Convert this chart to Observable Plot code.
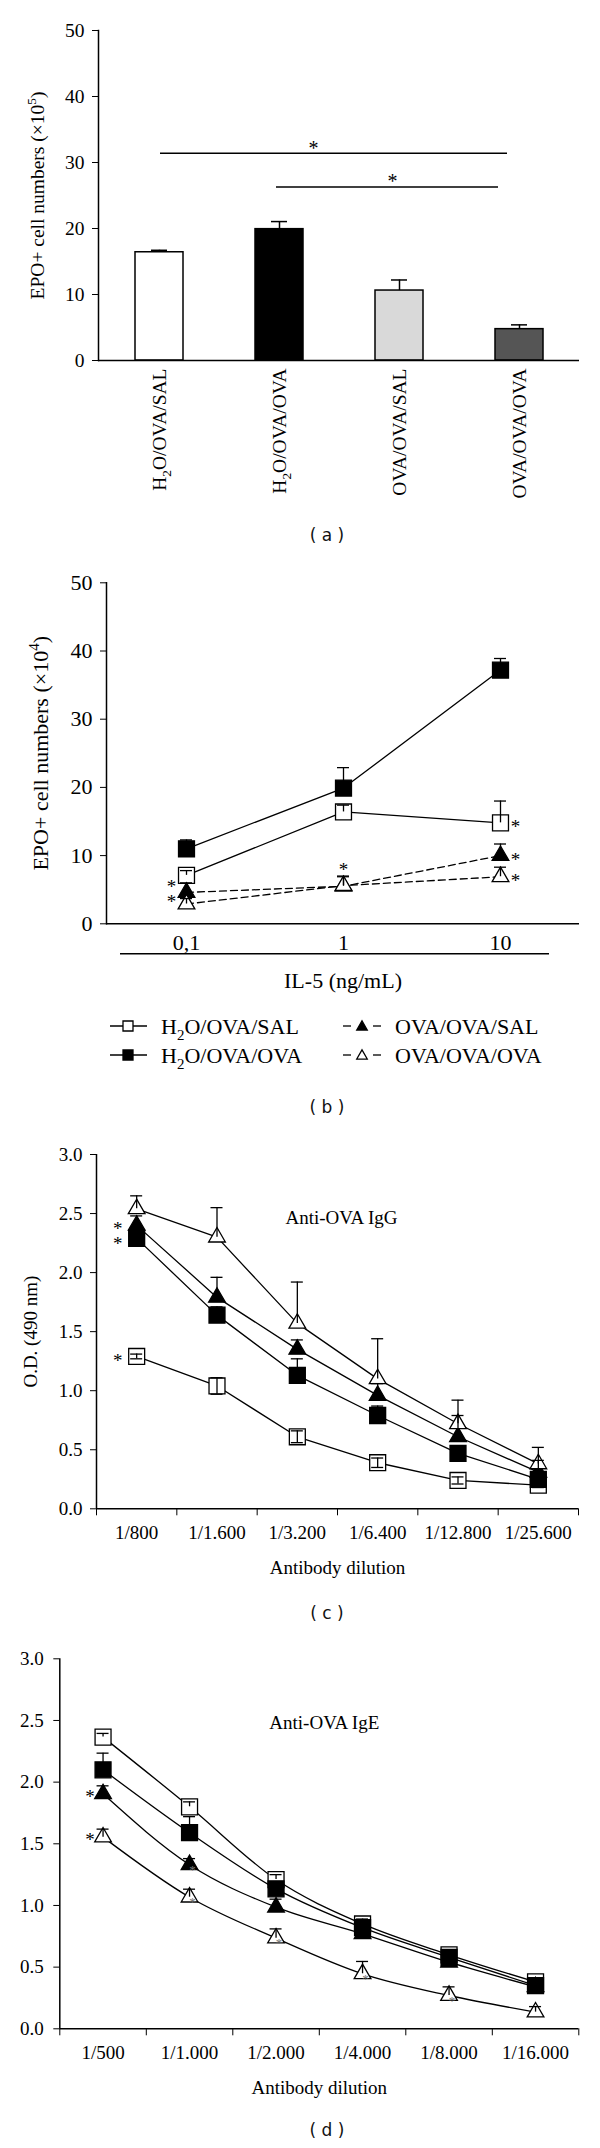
<!DOCTYPE html>
<html><head><meta charset="utf-8">
<script src="https://cdn.jsdelivr.net/npm/d3@7"></script>
<script src="https://cdn.jsdelivr.net/npm/@observablehq/plot@0.6"></script>
<style>
html,body{margin:0;padding:0;background:#fff;}
body{width:600px;height:2148px;position:relative;overflow:hidden;}
.panel{position:absolute;left:0;}
.cap{position:absolute;left:277px;width:100px;text-align:center;font-family:"DejaVu Sans",Verdana,sans-serif;font-size:17px;line-height:20px;color:#111;white-space:pre;}
</style>
</head><body>
<div id="pa" class="panel" style="top:0px"></div>
<div class="cap" style="top:525px">( a )</div>
<div id="pb" class="panel" style="top:560px"></div>
<div id="leg" class="panel" style="top:1000px"></div>
<div class="cap" style="top:1097px">( b )</div>
<div id="pc" class="panel" style="top:1130px"></div>
<div class="cap" style="top:1603px">( c )</div>
<div id="pd" class="panel" style="top:1640px"></div>
<div class="cap" style="top:2120px">( d )</div>
<script>
// ================= DATA =================
const groups = ["H2O/OVA/SAL", "H2O/OVA/OVA", "OVA/OVA/SAL", "OVA/OVA/OVA"];

// (a) EPO+ cell numbers (x10^5)
const aMeans = [16.4, 19.9, 10.6, 4.75];
const aErrs  = [0.3, 1.15, 1.6, 0.65];
const aSigFrom  = ["H2O/OVA/SAL", "H2O/OVA/OVA"];
const aSigTo    = ["OVA/OVA/OVA", "OVA/OVA/OVA"];
const aSigLevel = [31.4, 26.3];

// (b) EPO+ cell numbers (x10^4) vs IL-5
const il5Doses = ["0,1", "1", "10"];
const bSAL = [7.1, 16.4, 14.8];  const bSALerr = [0.7, 1.0, 3.2];
const bOVA = [11.0, 19.9, 37.2]; const bOVAerr = [1.3, 3.0, 1.7];
const bOOS = [4.6, 5.5, 10.0];   const bOOSerr = [1.4, 1.5, 1.7];
const bOOO = [2.9, 5.6, 6.9];    const bOOOerr = [0.8, 1.3, 1.4];
// significance stars: which series they flag, at which dose, on which side
const bStarSeries = [[2, 3], [2], [0], [2], [3]];
const bStarDose   = [0, 1, 2, 2, 2];
const bStarSide   = ["left", "above", "right", "right", "right"];

// (c) Anti-OVA IgG
const cDilutions = ["1/800", "1/1.600", "1/3.200", "1/6.400", "1/12.800", "1/25.600"];
const cSAL = [1.29, 1.04, 0.61, 0.39, 0.24, 0.20]; const cSALerr = [0.02, 0.07, 0.05, 0.04, 0.03, 0.02];
const cOVA = [2.29, 1.64, 1.13, 0.79, 0.47, 0.25]; const cOVAerr = [0.05, 0.07, 0.14, 0.08, 0.05, 0.03];
const cOOS = [2.40, 1.79, 1.35, 0.96, 0.61, 0.31]; const cOOSerr = [0.08, 0.17, 0.08, 0.10, 0.18, 0.10];
const cOOO = [2.54, 2.30, 1.57, 1.10, 0.72, 0.38]; const cOOOerr = [0.11, 0.25, 0.35, 0.34, 0.20, 0.14];
const cStarSeries = [[2, 1], [0]];
const cStarDil    = [0, 0];

// (d) Anti-OVA IgE
const dDilutions = ["1/500", "1/1.000", "1/2.000", "1/4.000", "1/8.000", "1/16.000"];
const dSAL = [2.365, 1.80, 1.21, 0.85, 0.60, 0.38]; const dSALerr = [0.03, 0.04, 0.04, 0.04, 0.04, 0.03];
const dOVA = [2.10, 1.59, 1.135, 0.82, 0.58, 0.35]; const dOVAerr = [0.135, 0.13, 0.05, 0.04, 0.05, 0.03];
const dOOS = [1.905, 1.33, 0.986, 0.77, 0.54, 0.34]; const dOOSerr = [0.065, 0.05, 0.065, 0.04, 0.04, 0.03];
const dOOO = [1.554, 1.067, 0.735, 0.446, 0.27, 0.135]; const dOOOerr = [0.065, 0.065, 0.075, 0.10, 0.07, 0.045];
const dStarSeries = [[2], [3]];
const dStarDil    = [0, 0];
const dSmallStarSeries = [[2], [3], [3], [3], [3]];
const dSmallStarDil    = [1, 1, 2, 3, 4];

// ================= STYLES =================
const FONT = "'Liberation Serif','Times New Roman',serif";
const aColors = ["#ffffff", "#000000", "#d9d9d9", "#555555"];
const seriesSymbol = ["square", "square", "triangle", "triangle"];
const seriesFill = ["white", "black", "black", "white"];
const seriesR = [9, 9, 6.2, 6.2];

// ================= HELPERS =================
function rows4(xs, means, errs) {
  const out = [];
  means.forEach((m, s) => m.forEach((v, i) => out.push({s, g: groups[s], x: xs[i], i, v, e: errs[s][i]})));
  return out;
}
function rich(root, fs) {
  root.querySelectorAll("text").forEach(el => {
    const t = el.textContent;
    if (!/H2O|\^\d/.test(t)) return;
    const parts = t.split(/(H2O|\^\d+)/).filter(p => p);
    el.textContent = "";
    let shift = 0;
    const add = (str, kind) => {
      const ts = document.createElementNS("http://www.w3.org/2000/svg", "tspan");
      ts.textContent = str;
      const target = kind === "sub" ? fs * 0.28 : kind === "sup" ? -fs * 0.38 : 0;
      const dy = target - shift;
      if (dy) ts.setAttribute("dy", dy);
      shift = target;
      if (kind) ts.setAttribute("font-size", fs * 0.68);
      el.appendChild(ts);
    };
    for (const p of parts) {
      if (p === "H2O") { add("H"); add("2", "sub"); add("O"); }
      else if (p[0] === "^") add(p.slice(1), "sup");
      else add(p);
    }
  });
}
function yLabel(text, dx) {
  return Plot.text([text], {frameAnchor: "left", rotate: -90, dx, textAnchor: "middle", lineAnchor: "middle", fill: "black"});
}
function seriesMarks(rows, X, {dashed = false, curve = "linear", symmetric = []} = {}) {
  const m = [];
  for (let s = 0; s < 4; s++) {
    const d = rows.filter(r => r.s === s);
    const o = {x: X, y: "v", stroke: "black", strokeWidth: 1.3, curve};
    if (dashed && s >= 2) o.strokeDasharray = "7,4";
    m.push(Plot.line(d, o));
  }
  for (let s = 0; s < 4; s++) {
    const d = rows.filter(r => r.s === s);
    m.push(Plot.dot(d, {x: X, y: "v", symbol: seriesSymbol[s], r: seriesR[s], fill: seriesFill[s], stroke: "black", strokeWidth: 1.3}));
  }
  const lo = r => symmetric.includes(r.s) ? r.v - r.e : r.v;
  m.push(Plot.ruleX(rows, {x: X, y1: lo, y2: r => r.v + r.e, stroke: "black", strokeWidth: 1.3}));
  m.push(Plot.ruleY(rows, {x1: X, x2: X, y: r => r.v + r.e, insetLeft: -6, insetRight: -6, stroke: "black", strokeWidth: 1.3}));
  const sym = rows.filter(r => symmetric.includes(r.s));
  m.push(Plot.ruleY(sym, {x1: X, x2: X, y: r => r.v - r.e, insetLeft: -6, insetRight: -6, stroke: "black", strokeWidth: 1.3}));
  return m;
}
// one (possibly stacked) star text per entry
function starRows(rows, series, idx, side) {
  return series.map((ss, k) => {
    const rs = ss.map(s => rows.find(q => q.s === s && q.i === idx[k]));
    return {x: rs[0].x, i: rs[0].i, v: d3.mean(rs, r => r.v), e: d3.max(rs, r => r.e), n: rs.length, side: side ? side[k] : "left"};
  });
}
const starText = d => Array(d.n).fill("*").join("\n");

// ================= PANEL A =================
const aRows = groups.map((g, i) => ({g, v: aMeans[i], e: aErrs[i]}));
const aSig = aSigLevel.map((y, k) => ({from: aSigFrom[k], to: aSigTo[k], y}));
const plotA = Plot.plot({
  width: 600, height: 520,
  marginTop: 30, marginBottom: 160, marginLeft: 98, marginRight: 21,
  style: {fontFamily: FONT, fontSize: "19.5px", color: "black", background: "white", overflow: "visible"},
  x: {type: "band", domain: groups, paddingInner: 0.6, paddingOuter: 0.3},
  y: {domain: [0, 50]},
  color: {domain: groups, range: aColors},
  marks: [
    Plot.barY(aRows, {x: "g", y: "v", fill: "g", stroke: "black", strokeWidth: 1.5}),
    Plot.ruleX(aRows, {x: "g", y1: "v", y2: d => d.v + d.e, stroke: "black", strokeWidth: 1.5}),
    Plot.ruleY(aRows, {x1: "g", x2: "g", y: d => d.v + d.e, insetLeft: 16, insetRight: 16, stroke: "black", strokeWidth: 1.5}),
    Plot.ruleY([aSig[0]], {x1: "from", x2: "to", y: "y", insetLeft: 25, insetRight: 36, stroke: "black", strokeWidth: 1.5}),
    Plot.ruleY([aSig[1]], {x1: "from", x2: "to", y: "y", insetLeft: 21, insetRight: 45, stroke: "black", strokeWidth: 1.5}),
    Plot.text([aSig[0]], {x: () => groups[1], y: "y", text: () => "*", dx: 34, dy: -5, fontSize: 20, fill: "black"}),
    Plot.text([aSig[1]], {x: () => groups[2], y: "y", text: () => "*", dx: -7, dy: -5, fontSize: 20, fill: "black"}),
    Plot.axisX({tickSize: 0, tickPadding: 8, tickRotate: -90, label: null}),
    Plot.axisY({ticks: [0, 10, 20, 30, 40, 50], tickSize: 6, tickPadding: 8, label: null}),
    yLabel("EPO+ cell numbers (×10^5)", -61),
    Plot.ruleY([0], {stroke: "black", strokeWidth: 1.5}),
    Plot.frame({anchor: "left", stroke: "black", strokeWidth: 1.5})
  ]
});
document.getElementById("pa").appendChild(plotA);
rich(plotA, 19.5);

// ================= PANEL B =================
const bRows = rows4(il5Doses, [bSAL, bOVA, bOOS, bOOO], [bSALerr, bOVAerr, bOOSerr, bOOOerr]);
const bStars = starRows(bRows, bStarSeries, bStarDose, bStarSide);
const plotB = Plot.plot({
  width: 600, height: 440,
  marginTop: 22.3, marginBottom: 76.7, marginLeft: 106, marginRight: 21,
  style: {fontFamily: FONT, fontSize: "22px", color: "black", background: "white", overflow: "visible"},
  x: {type: "point", domain: il5Doses, padding: 0.5},
  y: {domain: [0, 50]},
  marks: [
    ...seriesMarks(bRows, "x", {dashed: true}),
    Plot.text(bStars.filter(d => d.side === "left"), {x: "x", y: "v", text: starText, lineHeight: 0.79, dx: -15, dy: -3, fontSize: 19, fill: "black"}),
    Plot.text(bStars.filter(d => d.side === "right"), {x: "x", y: "v", text: starText, dx: 15, dy: 4, fontSize: 19, fill: "black"}),
    Plot.text(bStars.filter(d => d.side === "above"), {x: "x", y: d => d.v + d.e, text: starText, dy: -6, fontSize: 19, fill: "black"}),
    Plot.axisX({tickSize: 0, tickPadding: 11, label: "IL-5 (ng/mL)", labelAnchor: "center", labelOffset: 64, labelArrow: "none"}),
    Plot.axisY({ticks: [0, 10, 20, 30, 40, 50], tickSize: 6, tickPadding: 8, label: null}),
    yLabel("EPO+ cell numbers (×10^4)", -66),
    Plot.ruleY([0], {stroke: "black", strokeWidth: 1.5}),
    Plot.ruleY([0], {dy: 30, insetLeft: 14, insetRight: 30, stroke: "black", strokeWidth: 1.5}),
    Plot.frame({anchor: "left", stroke: "black", strokeWidth: 1.5})
  ]
});
document.getElementById("pb").appendChild(plotB);
rich(plotB, 22);

// ================= LEGEND =================
(function () {
  const svg = d3.select("#leg").append("svg").attr("width", 600).attr("height", 75)
    .style("font-family", FONT).style("font-size", "22px");
  const cols = [110, 343];
  const rowsY = [26, 55];
  const layout = [[0, 0, 0], [1, 0, 1], [2, 1, 0], [3, 1, 1]]; // series, col, row
  for (const [s, c, r] of layout) {
    const x0 = cols[c], y = rowsY[r];
    const g = svg.append("g").attr("transform", `translate(${x0},${y})`);
    if (s < 2) {
      g.append("line").attr("x1", 0).attr("x2", 37).attr("y1", 0).attr("y2", 0).attr("stroke", "black").attr("stroke-width", 1.3);
    } else {
      g.append("line").attr("x1", 0).attr("x2", 8).attr("stroke", "black").attr("stroke-width", 1.3);
      g.append("line").attr("x1", 30).attr("x2", 38).attr("stroke", "black").attr("stroke-width", 1.3);
    }
    const sym = s < 2 ? d3.symbolSquare : d3.symbolTriangle;
    const size = s < 2 ? 100 : 48;
    g.append("path").attr("d", d3.symbol(sym, size)()).attr("transform", `translate(${s < 2 ? 18 : 19},${s < 2 ? 0 : 1})`)
      .attr("fill", seriesFill[s]).attr("stroke", "black").attr("stroke-width", 1.3);
    g.append("text").attr("x", s < 2 ? 51 : 52).attr("y", 0).attr("dy", "0.35em").text(groups[s]);
  }
  rich(svg.node(), 22);
})();

// ================= PANEL C =================
const xi = d => d.i + 0.5;
const cRows = rows4(cDilutions, [cSAL, cOVA, cOOS, cOOO], [cSALerr, cOVAerr, cOOSerr, cOOOerr]);
const cStars = starRows(cRows, cStarSeries, cStarDil);
const plotC = Plot.plot({
  width: 600, height: 460,
  marginTop: 24, marginBottom: 81.7, marginLeft: 96, marginRight: 22,
  style: {fontFamily: FONT, fontSize: "19px", color: "black", background: "white", overflow: "visible"},
  x: {type: "linear", domain: [0, 6]},
  y: {domain: [0, 3]},
  marks: [
    ...seriesMarks(cRows, xi, {symmetric: [0]}),
    Plot.text(cStars.filter(d => d.n > 1), {x: xi, y: "v", text: starText, lineHeight: 0.79, dx: -19, dy: 6, fontSize: 19, fill: "black"}),
    Plot.text(cStars.filter(d => d.n === 1), {x: xi, y: "v", text: starText, dx: -19, dy: 4, fontSize: 19, fill: "black"}),
    Plot.text(["Anti-OVA IgG"], {frameAnchor: "top", dx: 4, dy: 56, fontSize: 19, fill: "black"}),
    Plot.axisX({ticks: d3.range(7), tickFormat: () => "", tickSize: 7, label: null}),
    Plot.axisX({ticks: d3.range(6).map(i => i + 0.5), tickFormat: v => cDilutions[Math.floor(v)], tickSize: 0, tickPadding: 17, label: "Antibody dilution", labelAnchor: "center", labelOffset: 65, labelArrow: "none"}),
    Plot.axisY({ticks: d3.range(0, 3.01, 0.5), tickFormat: d3.format(".1f"), tickSize: 6, tickPadding: 8, label: null}),
    yLabel("O.D. (490 nm)", -66),
    Plot.ruleY([0], {stroke: "black", strokeWidth: 1.5}),
    Plot.ruleX([0], {stroke: "black", strokeWidth: 1.5})
  ]
});
document.getElementById("pc").appendChild(plotC);

// ================= PANEL D =================
const dRows = rows4(dDilutions, [dSAL, dOVA, dOOS, dOOO], [dSALerr, dOVAerr, dOOSerr, dOOOerr]);
const dStars = starRows(dRows, dStarSeries, dStarDil);
const dSmallStars = starRows(dRows, dSmallStarSeries, dSmallStarDil);
const plotD = Plot.plot({
  width: 600, height: 460,
  marginTop: 18.3, marginBottom: 71.7, marginLeft: 59.3, marginRight: 21.7,
  style: {fontFamily: FONT, fontSize: "19px", color: "black", background: "white", overflow: "visible"},
  x: {type: "linear", domain: [0, 6]},
  y: {domain: [0, 3]},
  marks: [
    ...seriesMarks(dRows, xi, {curve: "monotone-x"}),
    Plot.text(dStars, {x: xi, y: "v", text: starText, dx: -13, dy: 3, fontSize: 19, fill: "black"}),
    Plot.text(dSmallStars, {x: xi, y: "v", text: starText, dx: 3, dy: 5, fontSize: 13, fill: "#777"}),
    Plot.text(["Anti-OVA IgE"], {frameAnchor: "top", dx: 5, dy: 57, fontSize: 19, fill: "black"}),
    Plot.axisX({ticks: d3.range(7), tickFormat: () => "", tickSize: 7, label: null}),
    Plot.axisX({ticks: d3.range(6).map(i => i + 0.5), tickFormat: v => dDilutions[Math.floor(v)], tickSize: 0, tickPadding: 17, label: "Antibody dilution", labelAnchor: "center", labelOffset: 65, labelArrow: "none"}),
    Plot.axisY({ticks: d3.range(0, 3.01, 0.5), tickFormat: d3.format(".1f"), tickSize: 6, tickPadding: 10, label: null}),
    Plot.ruleY([0], {stroke: "black", strokeWidth: 1.5}),
    Plot.ruleX([0], {stroke: "black", strokeWidth: 1.5})
  ]
});
document.getElementById("pd").appendChild(plotD);
</script>
</body></html>
